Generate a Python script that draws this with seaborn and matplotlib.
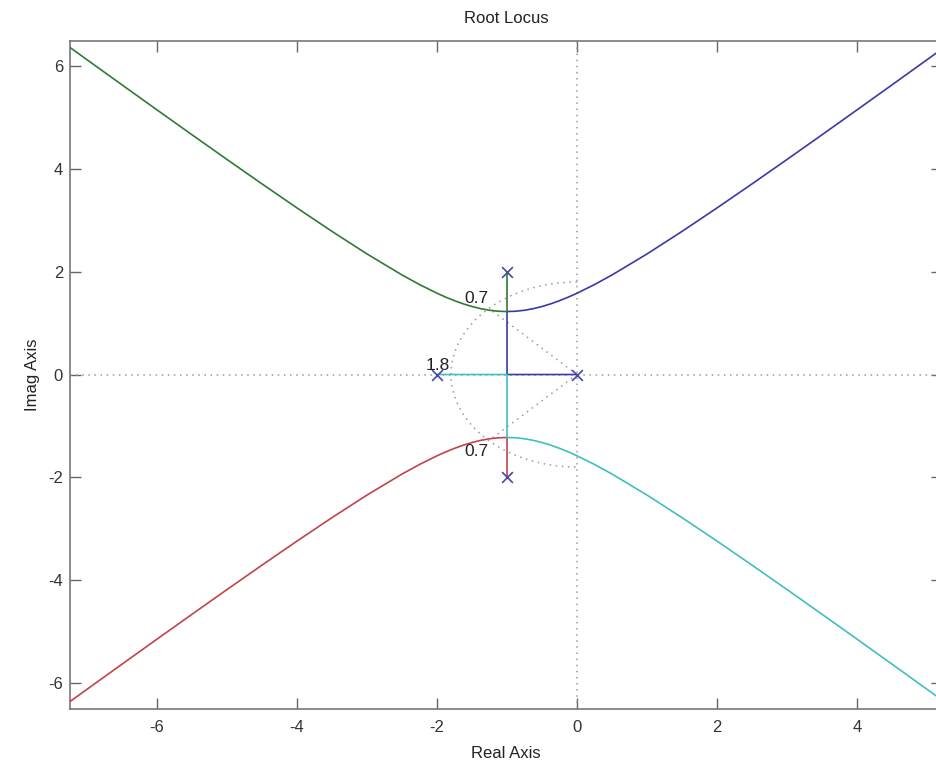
import numpy as np
import pandas as pd
import seaborn as sns
import matplotlib
matplotlib.use("Agg")
import matplotlib.pyplot as plt
from matplotlib.patches import Arc

# Open-loop poles
pole_re = [0.0, -2.0, -1.0, -1.0]
pole_im = [0.0, 0.0, 2.0, -2.0]

# Locus branches (real part, imaginary part)
blue_x = [0, -1, -1, -0.875, -0.75, -0.625, -0.5, -0.375, -0.25, -0.125, 0,
          0.25, 0.5, 1, 1.5, 2, 2.5, 3, 3.5, 4, 4.5, 5, 5.5]
blue_y = [0, 0, 1.2247, 1.2311, 1.25, 1.2809, 1.3229, 1.375, 1.4361, 1.5052, 1.5811,
          1.75, 1.9365, 2.3452, 2.7839, 3.2404, 3.7081, 4.1833, 4.6637, 5.1478,
          5.6347, 6.1237, 6.6144]

green_x = [-1, -1, -1.125, -1.25, -1.375, -1.5, -1.625, -1.75, -1.875, -2,
           -2.25, -2.5, -3, -3.5, -4, -4.5, -5, -5.5, -6, -6.5, -7, -7.5]
green_y = [2.0, 1.2247, 1.2311, 1.25, 1.2809, 1.3229, 1.375, 1.4361, 1.5052, 1.5811,
           1.75, 1.9365, 2.3452, 2.7839, 3.2404, 3.7081, 4.1833, 4.6637, 5.1478,
           5.6347, 6.1237, 6.6144]

red_x = [-1, -1, -1.125, -1.25, -1.375, -1.5, -1.625, -1.75, -1.875, -2,
         -2.25, -2.5, -3, -3.5, -4, -4.5, -5, -5.5, -6, -6.5, -7, -7.5]
red_y = [-2.0, -1.2247, -1.2311, -1.25, -1.2809, -1.3229, -1.375, -1.4361, -1.5052,
         -1.5811, -1.75, -1.9365, -2.3452, -2.7839, -3.2404, -3.7081, -4.1833,
         -4.6637, -5.1478, -5.6347, -6.1237, -6.6144]

cyan_x = [-2, -1, -1, -0.875, -0.75, -0.625, -0.5, -0.375, -0.25, -0.125, 0,
          0.25, 0.5, 1, 1.5, 2, 2.5, 3, 3.5, 4, 4.5, 5, 5.5]
cyan_y = [0, 0, -1.2247, -1.2311, -1.25, -1.2809, -1.3229, -1.375, -1.4361, -1.5052,
          -1.5811, -1.75, -1.9365, -2.3452, -2.7839, -3.2404, -3.7081, -4.1833,
          -4.6637, -5.1478, -5.6347, -6.1237, -6.6144]

# Grid: damping ratio and natural frequency
zeta = 0.7
wn = 1.8

x_ticks = [-6, -4, -2, 0, 2, 4]
y_ticks = [-6, -4, -2, 0, 2, 4, 6]

sns.set_style("ticks")
plt.rcParams["font.family"] = ["Liberation Sans", "DejaVu Sans"]
plt.rcParams["axes.unicode_minus"] = False

fig = plt.figure(figsize=(9.36, 7.62), dpi=100)
ax = fig.add_axes([70 / 936, 53 / 762, 872 / 936, 668 / 762])

grid_kw = dict(color="#9a9a9a", linestyle=(0, (1, 3)), linewidth=1.1)
ax.axhline(0, **grid_kw, zorder=1)
ax.axvline(0, **grid_kw, zorder=1)
ax.add_patch(Arc((0, 0), 2 * wn, 2 * wn, theta1=90, theta2=270, zorder=1, **grid_kw))
wd = wn * np.sqrt(1 - zeta ** 2)
ax.plot([0, -wn * zeta], [0, wd], zorder=1, **grid_kw)
ax.plot([0, -wn * zeta], [0, -wd], zorder=1, **grid_kw)

branches = [
    (blue_x, blue_y, "#3a3aa6"),
    (green_x, green_y, "#2f7a35"),
    (red_x, red_y, "#c2434c"),
    (cyan_x, cyan_y, "#3fbfc2"),
]
for bx, by, col in branches:
    sns.lineplot(x=bx, y=by, sort=False, estimator=None, color=col,
                 linewidth=1.2, ax=ax, zorder=3)

sns.scatterplot(x=pole_re, y=pole_im, marker="x", s=60, color="#4848a8",
                linewidth=1.2, ax=ax, zorder=4)

label_kw = dict(fontsize=12.5, color="#222222", ha="center", va="center", zorder=5)
ax.text(-1.44, 1.47, f"{zeta}", **label_kw)
ax.text(-1.44, -1.49, f"{zeta}", **label_kw)
ax.text(-1.99, 0.17, f"{wn}", **label_kw)

ax.set_xlim(-7.243, 5.214)
ax.set_ylim(-6.507, 6.488)
ax.set_xticks(x_ticks)
ax.set_yticks(y_ticks)
ax.set_xticklabels([str(t) for t in x_ticks])
ax.set_yticklabels([str(t) for t in y_ticks])
ax.tick_params(direction="in", length=8, width=1.0, color="#666666",
               labelcolor="#333333", labelsize=12, top=True, right=True)
ax.tick_params(axis="x", pad=8)
ax.tick_params(axis="y", pad=5)
for sp in ax.spines.values():
    sp.set_visible(True)
    sp.set_color("#777777")
    sp.set_linewidth(1.2)

ax.set_title("Root Locus", fontsize=12, color="#222222", pad=13)
ax.set_xlabel("Real Axis", fontsize=12, color="#222222", labelpad=8)
ax.set_ylabel("Imag Axis", fontsize=12, color="#222222", labelpad=6)

fig.savefig("out.png", dpi=100)
